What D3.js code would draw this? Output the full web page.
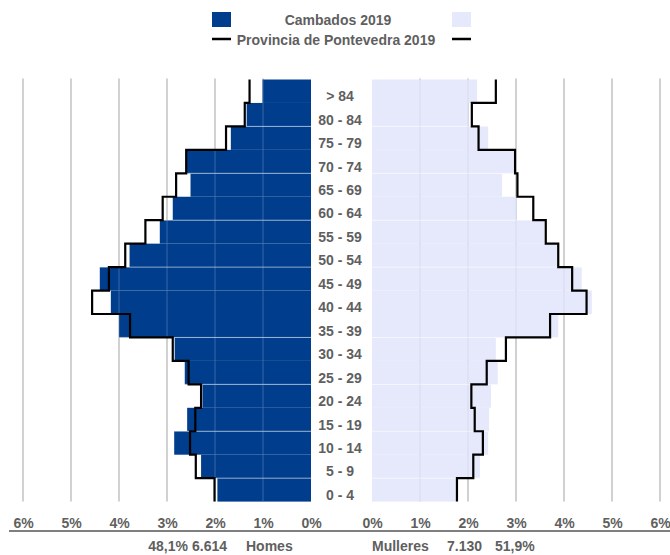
<html>
<head>
<meta charset="utf-8">
<script src="https://d3js.org/d3.v7.min.js"></script>
<style>
  body { margin: 0; background: #fff; }
  text { font-family: "Liberation Sans", Arial, sans-serif; font-weight: bold; fill: #5f5f5f; }
</style>
</head>
<body>
<div id="container"></div>
<script>
// age groups, top to bottom
var ages = ["> 84", "80 - 84", "75 - 79", "70 - 74", "65 - 69", "60 - 64", "55 - 59", "50 - 54", "45 - 49",
            "40 - 44", "35 - 39", "30 - 34", "25 - 29", "20 - 24", "15 - 19", "10 - 14", "5 - 9", "0 - 4"];

// % of total population
var homesCambados = [1.01, 1.34, 1.67, 2.60, 2.51, 2.88, 3.15, 3.78, 4.40, 4.17, 4.00, 2.84, 2.63, 2.26, 2.58, 2.85, 2.29, 1.95];
var mulleresCambados = [2.19, 2.01, 2.42, 2.95, 2.71, 3.01, 3.59, 3.87, 4.37, 4.58, 3.88, 2.58, 2.62, 2.48, 2.44, 2.42, 2.25, 1.76];
var homesPontevedra = [1.28, 1.38, 1.77, 2.60, 2.81, 3.09, 3.45, 3.87, 4.21, 4.56, 3.77, 2.88, 2.55, 2.29, 2.41, 2.52, 2.40, 2.01];
var mulleresPontevedra = [2.58, 2.08, 2.22, 2.98, 3.03, 3.36, 3.62, 3.88, 4.17, 4.47, 3.71, 2.79, 2.39, 2.07, 2.14, 2.31, 2.11, 1.77];

var ticks = [0, 1, 2, 3, 4, 5, 6];
var gridRows = [2, 4, 6, 8, 11, 13, 15, 17]; // band boundaries where the faint row lines show

var totalHomes = 6614, pctHomes = "48,1%";
var totalMulleres = 7130, pctMulleres = "51,9%";

var width = 670, height = 555;
var darkBlue = "#003d8c", lightBlue = "#e6e9fc";

var svg = d3.select("#container").append("svg")
    .attr("width", width)
    .attr("height", height)
    .style("display", "block");

var xLeft = d3.scaleLinear().domain([0, 6]).range([311, 23]);
var xRight = d3.scaleLinear().domain([0, 6]).range([372, 660]);
var y = d3.scaleBand().domain(ages).range([79.5, 501.6]).padding(0);

var yTop = y.range()[0], yBot = y.range()[1];

// vertical gridlines
var grid = svg.append("g");
[xLeft, xRight].forEach(function(sc) {
    grid.selectAll(null)
        .data(ticks.filter(function(t) { return t > 0; }))
        .enter().append("line")
        .attr("x1", function(d) { return sc(d); })
        .attr("x2", function(d) { return sc(d); })
        .attr("y1", yTop - 1)
        .attr("y2", yBot)
        .style("stroke", "#b9b9b9")
        .style("stroke-width", 1.3);
});

// bars
var bars = svg.append("g");
bars.selectAll(".homes")
    .data(homesCambados)
    .enter().append("rect")
    .classed("homes", true)
    .attr("x", function(d) { return xLeft(d); })
    .attr("y", function(d, i) { return y(ages[i]); })
    .attr("width", function(d) { return xLeft(0) - xLeft(d); })
    .attr("height", y.bandwidth())
    .style("fill", darkBlue);

bars.selectAll(".mulleres")
    .data(mulleresCambados)
    .enter().append("rect")
    .classed("mulleres", true)
    .attr("x", xRight(0))
    .attr("y", function(d, i) { return y(ages[i]); })
    .attr("width", function(d) { return xRight(d) - xRight(0); })
    .attr("height", y.bandwidth())
    .style("fill", lightBlue);

// faint grid showing through the bars
var clip = svg.append("clipPath").attr("id", "barclip");
clip.selectAll("rect")
    .data(bars.selectAll("rect").nodes())
    .enter().append("rect")
    .attr("x", function(n) { return n.getAttribute("x"); })
    .attr("y", function(n) { return n.getAttribute("y"); })
    .attr("width", function(n) { return n.getAttribute("width"); })
    .attr("height", function(n) { return n.getAttribute("height"); });

var inner = svg.append("g").attr("clip-path", "url(#barclip)");
[[xLeft, "#ffffff", 0.22], [xRight, "#b8bccc", 0.3]].forEach(function(s) {
    inner.selectAll(null)
        .data(ticks.filter(function(t) { return t > 0; }))
        .enter().append("line")
        .attr("x1", function(d) { return s[0](d); })
        .attr("x2", function(d) { return s[0](d); })
        .attr("y1", yTop)
        .attr("y2", yBot)
        .style("stroke", s[1])
        .style("stroke-opacity", s[2])
        .style("stroke-width", 1);
});
inner.selectAll(".hrow")
    .data(gridRows)
    .enter().append("line")
    .attr("x1", 0)
    .attr("x2", width)
    .attr("y1", function(d) { return yTop + d * y.step(); })
    .attr("y2", function(d) { return yTop + d * y.step(); })
    .style("stroke", "#ffffff")
    .style("stroke-opacity", 0.5)
    .style("stroke-width", 1);

// province step lines
function stepPoints(vals) {
    var pts = [];
    vals.forEach(function(v, i) {
        pts.push([v, y(ages[i])]);
        pts.push([v, y(ages[i]) + y.bandwidth()]);
    });
    return pts;
}

var lineLeft = d3.line()
    .x(function(d) { return xLeft(d[0]); })
    .y(function(d) { return d[1]; });
var lineRight = d3.line()
    .x(function(d) { return xRight(d[0]); })
    .y(function(d) { return d[1]; });

svg.append("path")
    .attr("d", lineLeft(stepPoints(homesPontevedra)))
    .style("fill", "none")
    .style("stroke", "#000")
    .style("stroke-width", 2.2);
svg.append("path")
    .attr("d", lineRight(stepPoints(mulleresPontevedra)))
    .style("fill", "none")
    .style("stroke", "#000")
    .style("stroke-width", 2.2);

// age labels
svg.append("g").selectAll("text")
    .data(ages)
    .enter().append("text")
    .attr("x", 340)
    .attr("y", function(d) { return y(d) + y.bandwidth() / 2 + 10; })
    .attr("text-anchor", "middle")
    .style("font-size", "14px")
    .text(function(d) { return d; });

// x axes
var fmt = function(d) { return d + "%"; };
var axL = svg.append("g")
    .attr("transform", "translate(0,517)")
    .call(d3.axisBottom(xLeft).tickValues(ticks).tickSize(0).tickFormat(fmt));
var axR = svg.append("g")
    .attr("transform", "translate(0,517)")
    .call(d3.axisBottom(xRight).tickValues(ticks).tickSize(0).tickFormat(fmt));
[axL, axR].forEach(function(ax) {
    ax.select(".domain").remove();
    ax.selectAll("text")
        .attr("dy", 0)
        .attr("y", 11)
        .style("font-family", "'Liberation Sans', Arial, sans-serif")
        .style("font-size", "14px")
        .style("font-weight", "bold")
        .style("fill", "#5f5f5f");
});

svg.append("line")
    .attr("x1", 9).attr("x2", width)
    .attr("y1", 531).attr("y2", 531)
    .style("stroke", "#7f7f7f")
    .style("stroke-width", 2);

// totals row
var fmtNum = function(n) { return d3.format(",")(n).replace(",", "."); };
var totals = [
    { t: pctHomes, x: 188, a: "end" },
    { t: fmtNum(totalHomes), x: 192, a: "start" },
    { t: "Homes", x: 246, a: "start" },
    { t: "Mulleres", x: 372, a: "start" },
    { t: fmtNum(totalMulleres), x: 447, a: "start" },
    { t: pctMulleres, x: 495, a: "start" }
];
svg.append("g").selectAll("text")
    .data(totals)
    .enter().append("text")
    .attr("x", function(d) { return d.x; })
    .attr("y", 551)
    .attr("text-anchor", function(d) { return d.a; })
    .style("font-size", "14px")
    .text(function(d) { return d.t; });

// legend
var legend = svg.append("g");
legend.append("rect").attr("x", 212).attr("y", 12).attr("width", 19).attr("height", 15).style("fill", darkBlue);
legend.append("rect").attr("x", 452).attr("y", 12).attr("width", 19).attr("height", 15).style("fill", lightBlue);
legend.append("line").attr("x1", 212).attr("x2", 231).attr("y1", 39).attr("y2", 39)
    .style("stroke", "#000").style("stroke-width", 2.5);
legend.append("line").attr("x1", 452).attr("x2", 471).attr("y1", 39).attr("y2", 39)
    .style("stroke", "#000").style("stroke-width", 2.5);
legend.append("text").attr("x", 338).attr("y", 25).attr("text-anchor", "middle")
    .style("font-size", "14px").text("Cambados 2019");
legend.append("text").attr("x", 336).attr("y", 45).attr("text-anchor", "middle")
    .style("font-size", "14px").text("Provincia de Pontevedra 2019");
</script>
</body>
</html>
